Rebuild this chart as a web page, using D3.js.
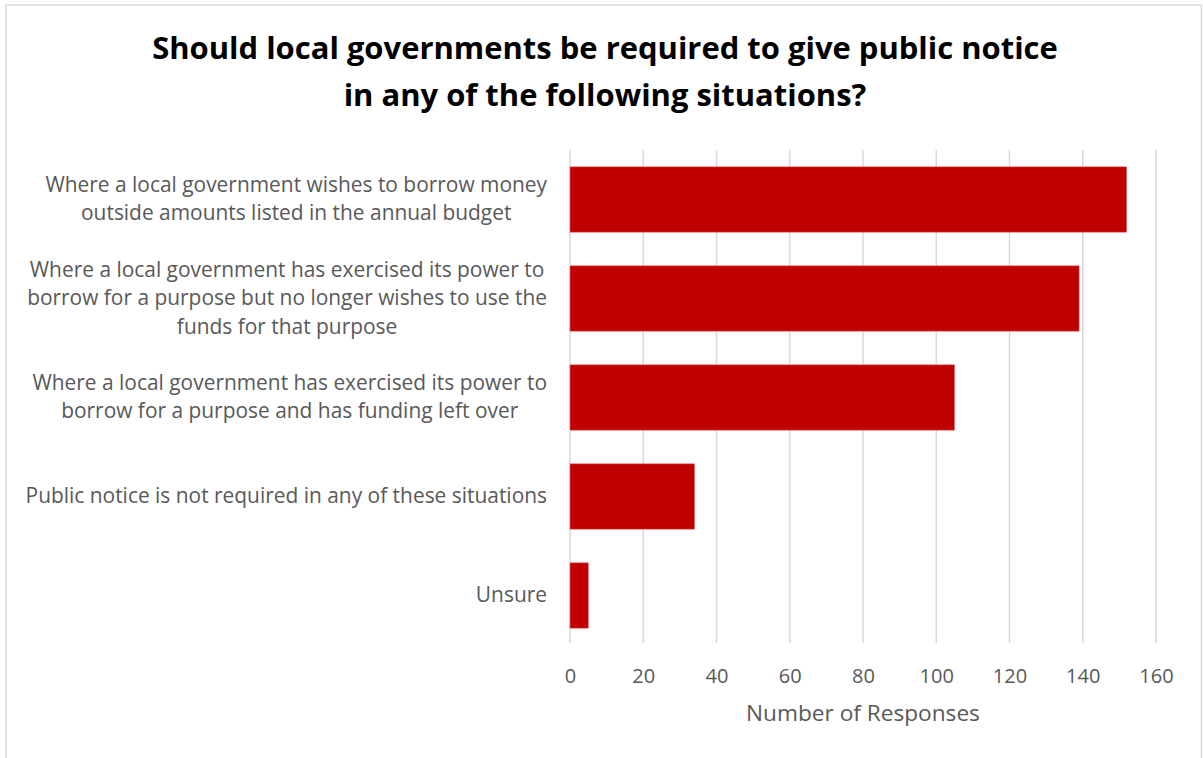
<!DOCTYPE html>
<html>
<head>
<meta charset="utf-8">
<script src="https://cdn.jsdelivr.net/npm/d3@7"></script>
<style>
  html, body { margin: 0; padding: 0; background: #ffffff; }
  svg { display: block; }
  text { font-family: "Open Sans", "Noto Sans", "Liberation Sans", sans-serif; }
</style>
</head>
<body>
<svg id="chart" width="1203" height="758"></svg>
<script>
// Survey answers, top to bottom
const categories = [
  ["Where a local government wishes to borrow money", "outside amounts listed in the annual budget"],
  ["Where a local government has exercised its power to", "borrow for a purpose but no longer wishes to use the", "funds for that purpose"],
  ["Where a local government has exercised its power to", "borrow for a purpose and has funding left over"],
  ["Public notice is not required in any of these situations"],
  ["Unsure"]
];
const responses = [152, 139, 105, 34, 5];
const xTicks = [0, 20, 40, 60, 80, 100, 120, 140, 160];
const titleLines = [
  "Should local governments be required to give public notice",
  "in any of the following situations?"
];
const xAxisTitle = "Number of Responses";

const svg = d3.select("#chart");
const W = 1203, H = 758;

// scale a text's font size so that its rendered width equals `target`
function fitWidth(sel, baseSize, target) {
  sel.attr("font-size", baseSize);
  const w = sel.node().getComputedTextLength();
  const s = baseSize * target / w;
  sel.attr("font-size", s);
  return s;
}

// chart frame
svg.append("rect")
  .attr("x", 6).attr("y", 5)
  .attr("width", W - 7.5).attr("height", H + 10)
  .attr("fill", "#ffffff")
  .attr("stroke", "#d9d9d9").attr("stroke-width", 1.5);

const plot = { left: 570, right: 1156, top: 150, bottom: 645 };

const ids = categories.map((c, i) => i);
const x = d3.scaleLinear().domain([0, 160]).range([plot.left, plot.right]);
const y = d3.scaleBand().domain(ids).range([plot.top, plot.bottom])
  .paddingInner(0.34).paddingOuter(0.17);

// vertical gridlines
svg.append("g").selectAll("line").data(xTicks).join("line")
  .attr("x1", d => x(d)).attr("x2", d => x(d))
  .attr("y1", plot.top).attr("y2", plot.bottom - 2)
  .attr("stroke", "#d9d9d9").attr("stroke-width", 1.5);

// bars
svg.append("g").selectAll("rect").data(responses).join("rect")
  .attr("x", x(0))
  .attr("y", (d, i) => y(i))
  .attr("width", d => x(d) - x(0))
  .attr("height", y.bandwidth())
  .attr("fill", "#c00000")
  .attr("stroke", "#e07070").attr("stroke-width", 0.6);

// x axis tick labels
const xAxis = d3.axisBottom(x).tickValues(xTicks).tickSize(0).tickPadding(0);
const gx = svg.append("g").attr("transform", `translate(0, 682.5)`).call(xAxis);
gx.select(".domain").remove();
gx.selectAll("text")
  .attr("dy", 0)
  .attr("font-size", 20)
  .attr("fill", "#595959")
  .style("font-family", "'Open Sans', sans-serif");

// x axis title
const xt = svg.append("text")
  .attr("x", x(80) + 0).attr("y", 721)
  .attr("text-anchor", "middle")
  .attr("fill", "#595959")
  .text(xAxisTitle);
fitWidth(xt, 19, 234);

// category labels: multi-line blocks are centred, block right edge next to the axis
const labelRight = 547;
const lineH = 28.5;
const probe = svg.append("text").text(categories[3][0]);
const labelSize = fitWidth(probe, 18, 522);
probe.remove();
const gl = svg.append("g");
categories.forEach((lines, i) => {
  const cy = y(i) + y.bandwidth() / 2;
  const g = gl.append("g");
  const texts = lines.map((ln, k) => g.append("text")
    .attr("font-size", labelSize)
    .attr("fill", "#595959")
    .attr("text-anchor", "middle")
    .attr("y", cy + (k - (lines.length - 1) / 2) * lineH + 6.5)
    .text(ln));
  const maxW = d3.max(texts, t => t.node().getComputedTextLength());
  texts.forEach(t => t.attr("x", labelRight - maxW / 2));
});

// title
const tg = svg.append("g");
let titleSize = null;
titleLines.forEach((ln, k) => {
  const t = tg.append("text")
    .attr("x", 605).attr("y", 59 + k * 47)
    .attr("text-anchor", "middle")
    .attr("font-weight", "bold")
    .attr("fill", "#000000")
    .text(ln);
  if (k === 0) titleSize = fitWidth(t, 26, 906);
  else t.attr("font-size", titleSize);
});
</script>
</body>
</html>
